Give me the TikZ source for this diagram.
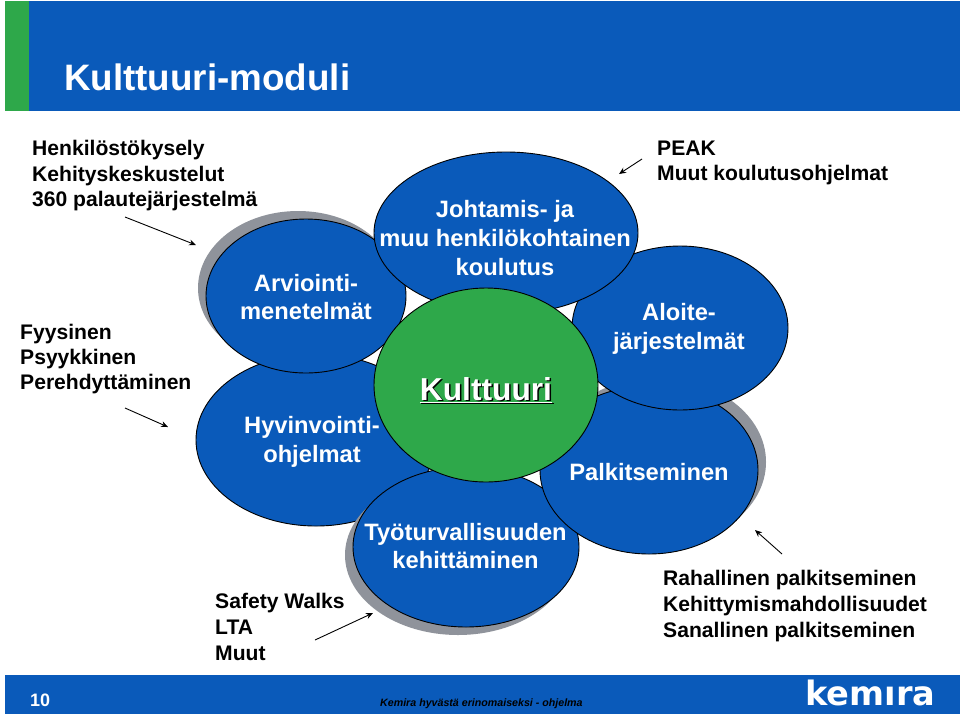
\documentclass[tikz,border=0pt]{standalone}
\usepackage{fontspec}
\setmainfont{Liberation Sans}
\newfontfamily\logofont{DejaVu Sans}
\usetikzlibrary{arrows.meta}
\definecolor{kblue}{HTML}{0A5ABA}
\definecolor{kgreen}{HTML}{2EA84A}
\definecolor{kgray}{HTML}{8F939B}
\tikzset{
  x=1pt,y=-1pt,
  bub/.style={draw=black,line width=0.9pt,fill=kblue},
  shad/.style={fill=kgray},
  wt/.style={text=white,font=\fontsize{23.7}{28.3}\selectfont\bfseries,align=center,inner sep=0pt},
  wtw/.style={text=white,font=\fontsize{23.7}{29}\selectfont\bfseries,align=center,inner sep=0pt},
  bt/.style={text=black,font=\fontsize{21.1}{25.2}\selectfont\bfseries,align=left,inner sep=0pt,anchor=north west},
  btw/.style={text=black,font=\fontsize{21.1}{26}\selectfont\bfseries,align=left,inner sep=0pt,anchor=north west},
  arr/.style={draw=black,line width=0.9pt,-{Stealth[length=7pt,width=6pt]}},
}
\begin{document}
\begin{tikzpicture}
\useasboundingbox (0,0) rectangle (960,716);
\fill[white] (0,0) rectangle (960,716);
% header / footer
\fill[kblue] (5,1) rectangle (960,111);
\fill[kgreen] (5,1) rectangle (29,111);
\fill[kblue] (5,675) rectangle (960,714);
\node[anchor=base west,inner sep=0pt,text=white,font=\fontsize{36.8}{37}\selectfont\bfseries] (title) at (64,90) {Kulttuuri-moduli};
% shadows and bubbles
\fill[bub] (316,440) ellipse [x radius=120,y radius=86];
\fill[shad] (458,555) ellipse [x radius=113,y radius=80];
\draw[bub] (466,547) ellipse [x radius=113,y radius=80];
\fill[shad] (657,462) ellipse [x radius=109,y radius=84];
\draw[bub] (649,470) ellipse [x radius=109,y radius=84];
\draw[bub] (680,328) ellipse [x radius=108,y radius=82];
\fill[shad] (298,288) ellipse [x radius=100,y radius=77];
\draw[bub] (306,296) ellipse [x radius=100,y radius=77];
\draw[bub] (506,233) ellipse [x radius=132,y radius=81];
\draw[bub,fill=kgreen] (486,385) ellipse [x radius=112,y radius=97];
% bubble labels
\node[wt] (arv) at (306,297) {Arviointi-\\menetelmät};
\node[wtw] (joh) at (505,238) {Johtamis- ja\\muu henkilökohtainen\\koulutus};
\node[wt] (alo) at (679,329) {Aloite-\\järjestelmät};
\node[wtw] (hyv) at (312,442) {Hyvinvointi-\\ohjelmat};
\node[wt] (pal) at (649,472) {Palkitseminen};
\node[wt] (tyo) at (465.5,546) {Työturvallisuuden\\kehittäminen};
\node[inner sep=0pt,text=black,font=\fontsize{31.7}{32}\selectfont\bfseries] at (487.5,391.5) {\underline{Kulttuuri}};
\node[inner sep=0pt,text=white,font=\fontsize{31.7}{32}\selectfont\bfseries] (kul) at (486,390) {\underline{Kulttuuri}};
% black lists
\node[bt] (l1) at (32,140.5) {Henkilöstökysely\\Kehityskeskustelut\\360 palautejärjestelmä};
\node[bt] (l2) at (20,323.5) {Fyysinen\\Psyykkinen\\Perehdyttäminen};
\node[btw] (l3) at (215,592.5) {Safety Walks\\LTA\\Muut};
\node[bt] (l4) at (657,141) {PEAK\\Muut koulutusohjelmat};
\node[btw] (l5) at (663,570) {Rahallinen palkitseminen\\Kehittymismahdollisuudet\\Sanallinen palkitseminen};
% arrows
\coordinate (a1s) at (125,217); \coordinate (a1e) at (196,245);
\coordinate (a2s) at (125,408); \coordinate (a2e) at (168,427);
\coordinate (a3s) at (642,159); \coordinate (a3e) at (619,174);
\coordinate (a4s) at (315,640); \coordinate (a4e) at (373,613);
\coordinate (a5s) at (782,554); \coordinate (a5e) at (755,530);
\draw[arr] (a1s) -- (a1e);
\draw[arr] (a2s) -- (a2e);
\draw[arr] (a3s) -- (a3e);
\draw[arr] (a4s) -- (a4e);
\draw[arr] (a5s) -- (a5e);
% footer text
\node[anchor=base west,inner sep=0pt,text=white,font=\fontsize{18}{18}\selectfont\bfseries] (num) at (30,706) {10};
\node[anchor=base west,inner sep=0pt,text=black,font=\fontsize{10.65}{11}\selectfont\bfseries\itshape] (foot) at (380,706) {Kemira hyvästä erinomaiseksi - ohjelma};
\node[anchor=base west,inner sep=0pt,text=white,font=\logofont\fontsize{33.6}{34}\selectfont\bfseries] (logo) at (805,705) {kemıra};
\end{tikzpicture}
\end{document}
